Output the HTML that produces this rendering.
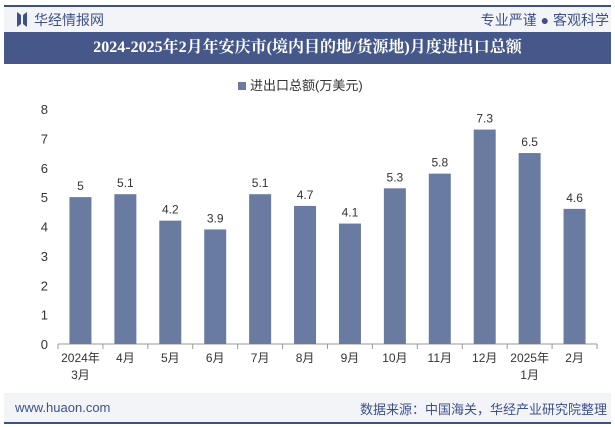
<!DOCTYPE html>
<html><head><meta charset="utf-8"><style>
body{margin:0;width:615px;height:427px;overflow:hidden;background:#fff;font-family:"Liberation Sans","Noto Sans CJK SC",sans-serif;position:relative}
.abs{position:absolute}
</style></head><body>
<div class="abs" style="left:4px;top:5px;width:607px;height:2px;background:#3d5189"></div>
<div class="abs" style="left:4px;top:7px;width:607px;height:25px;background:#f2f4f8"></div>
<div class="abs" style="left:17px;top:12px;width:10px;height:15px;background:#3d5189;clip-path:polygon(0 0,40% 20%,40% 80%,0 100%,0 0,100% 0,100% 100%,60% 80%,60% 20%,100% 0)"></div>
<div class="abs" style="left:34px;top:10px;font-size:14px;color:#3d5189">华经情报网</div>
<div class="abs" style="right:6px;top:10px;font-size:14px;color:#3d5189">专业严谨 ● 客观科学</div>
<div class="abs" style="left:4px;top:32px;width:607px;height:32px;background:#46588a;color:#fff;font-family:'Liberation Serif','Noto Serif CJK SC',serif;font-weight:bold;font-size:16px;line-height:32px;text-align:center">2024-2025年2月年安庆市(境内目的地/货源地)月度进出口总额</div>
<div class="abs" style="left:238px;top:75px;font-size:13px;color:#333"><span style="display:inline-block;width:8px;height:8px;background:#6a7ba2;margin-right:4px"></span>进出口总额(万美元)</div>
<svg class="abs" style="left:0;top:0" width="615" height="427" id="chart"></svg>
<div class="abs" style="left:4px;top:393px;width:607px;height:29px;background:#f2f4f8"></div>
<div class="abs" style="left:4px;top:422px;width:607px;height:2px;background:#3d5189"></div>
<div class="abs" style="left:15px;top:400px;font-size:13px;color:#3d5189">www.huaon.com</div>
<div class="abs" style="right:8px;top:399px;font-size:13px;color:#3d5189">数据来源：中国海关，华经产业研究院整理</div>
<script>
const categories=["2024年\n3月","4月","5月","6月","7月","8月","9月","10月","11月","12月","2025年\n1月","2月"];
const values=[5,5.1,4.2,3.9,5.1,4.7,4.1,5.3,5.8,7.3,6.5,4.6];
const yTicks=[0,1,2,3,4,5,6,7,8];
const NS="http://www.w3.org/2000/svg";
const svg=document.getElementById('chart');
const x0=58,x1=597,y0=344,yTop=109,yMax=8;
const bw=(x1-x0)/categories.length;
const ys=v=>y0-(v/yMax)*(y0-yTop);
function mk(t,a){const e=document.createElementNS(NS,t);for(const k in a)e.setAttribute(k,a[k]);svg.appendChild(e);return e;}
yTicks.forEach(t=>{const l=mk('text',{x:48,y:ys(t)+5,'text-anchor':'end','font-size':13,fill:'#333'});l.textContent=t;

});
const ax=mk('line',{x1:x0,x2:x1,y1:y0,y2:y0,stroke:'#999'});


categories.forEach((c,i)=>{
 const cx=x0+bw*(i+0.5);
 const tk=mk('line',{x1:x0+bw*i,x2:x0+bw*i,y1:y0,y2:y0+5,stroke:'#999'});
 
 
 const v=values[i];
 const b=mk('rect',{x:cx-11,y:ys(v),width:22,height:y0-ys(v),fill:'#6a7ba2'});
 
 
 const vl=mk('text',{x:cx,y:ys(v)-7,'text-anchor':'middle','font-size':12,fill:'#333'});vl.textContent=v;
 
 
 c.split('\n').forEach((s,j)=>{const t=mk('text',{x:cx,y:y0+18+j*17,'text-anchor':'middle','font-size':12,fill:'#333'});t.textContent=s;
 
 });
});
const e=mk('line',{x1:x1,x2:x1,y1:y0,y2:y0+5,stroke:'#999'});


</script>
</body></html>
